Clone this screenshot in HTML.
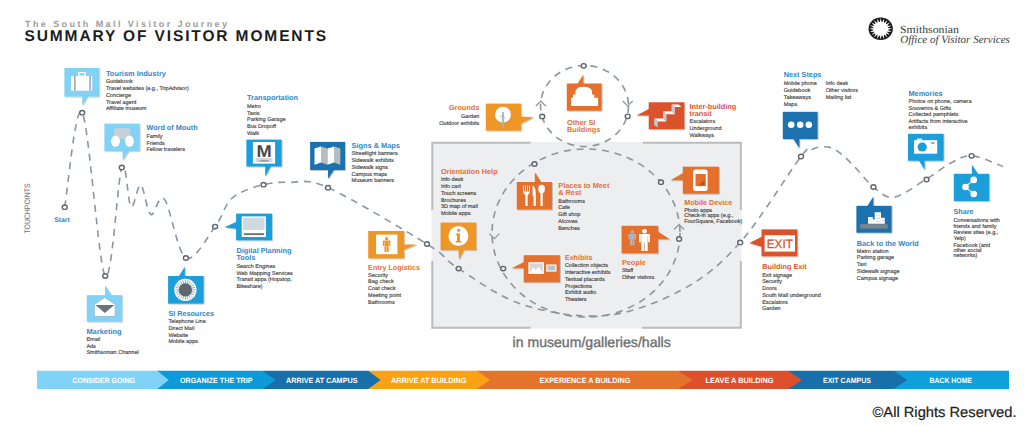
<!DOCTYPE html><html><head><meta charset="utf-8"><style>html,body{margin:0;padding:0;background:#fff;}svg{display:block;}#wrap{width:1024px;height:427px;}text{font-family:"Liberation Sans",sans-serif;text-rendering:geometricPrecision;}</style></head><body>
<div id="wrap">
<svg width="1024" height="427" viewBox="0 0 1024 427">
<defs><filter id="sh" x="-20%" y="-20%" width="150%" height="150%"><feDropShadow dx="0.8" dy="0.8" stdDeviation="0.6" flood-color="#000" flood-opacity="0.28"/></filter><filter id="bl" color-interpolation-filters="sRGB" x="0" y="0" width="1024" height="427" filterUnits="userSpaceOnUse"><feGaussianBlur stdDeviation="0.45"/></filter></defs>
<rect width="1024" height="427" fill="#fff"/>
<text x="25" y="26.8" font-size="9" fill="#9a9a9a" font-weight="bold" letter-spacing="2.42">The South Mall Visitor Journey</text>
<text x="24.5" y="41.3" font-size="15.5" fill="#1c1c1c" font-weight="bold" letter-spacing="1.88">SUMMARY OF VISITOR MOMENTS</text>
<ellipse cx="880.7" cy="28.8" rx="12.2" ry="11.3" fill="#1a1a1a"/>
<path d="M887.84,27.94 L892.30,28.80 L887.84,29.66 Z M887.78,30.01 L891.73,32.11 L887.20,31.64 Z M887.02,31.95 L890.08,35.09 L885.93,33.34 Z M885.65,33.59 L887.52,37.46 L884.14,34.60 Z M883.79,34.76 L884.28,38.98 L882.02,35.29 Z M881.63,35.34 L880.70,39.50 L879.77,35.34 Z M879.38,35.29 L877.12,38.98 L877.61,34.76 Z M877.26,34.60 L873.88,37.46 L875.75,33.59 Z M875.47,33.34 L871.32,35.09 L874.38,31.95 Z M874.20,31.64 L869.67,32.11 L873.62,30.01 Z M873.56,29.66 L869.10,28.80 L873.56,27.94 Z M873.62,27.59 L869.67,25.49 L874.20,25.96 Z M874.38,25.65 L871.32,22.51 L875.47,24.26 Z M875.75,24.01 L873.88,20.14 L877.26,23.00 Z M877.61,22.84 L877.12,18.62 L879.38,22.31 Z M879.77,22.26 L880.70,18.10 L881.63,22.26 Z M882.02,22.31 L884.28,18.62 L883.79,22.84 Z M884.14,23.00 L887.52,20.14 L885.65,24.01 Z M885.93,24.26 L890.08,22.51 L887.02,25.65 Z M887.20,25.96 L891.73,25.49 L887.78,27.59 Z" fill="#fff"/>
<ellipse cx="880.7" cy="28.8" rx="7.6" ry="7.0" fill="#fff"/>
<text x="899.9" y="32.6" font-size="11" fill="#3d3d3d" textLength="59" lengthAdjust="spacingAndGlyphs" style="font-family:'Liberation Serif',serif">Smithsonian</text>
<text x="900.3" y="42.8" font-size="11" fill="#3d3d3d" font-style="italic" textLength="109.5" lengthAdjust="spacingAndGlyphs" style="font-family:'Liberation Serif',serif">Office of Visitor Services</text>
<text x="0" y="0" font-size="8" fill="#6c737a" transform="translate(30.3,233.6) rotate(-90)" textLength="50.2" lengthAdjust="spacingAndGlyphs">TOUCHPOINTS</text>
<rect x="431.5" y="142" width="310" height="186.5" fill="#eceef0"/>
<path d="M432.3,210 V142.8 H530.5 M643,142.8 H740.8 V210 M432.3,261 V327.8 H530.5 M642,327.8 H740.8 V261" fill="none" stroke="#bcbcbc" stroke-width="2"/>
<path d="M64.7,207.2 C67.6,191.4 75.5,101.2 82.2,112.7 C89.0,124.2 98.6,266.9 105.2,276.0 C111.8,285.1 117.5,179.0 121.8,167.5 C126.1,156.0 127.8,203.9 131.0,206.8 C134.2,209.7 137.4,183.6 140.7,184.9 C144.0,186.2 146.8,212.1 150.8,214.5 C154.8,216.9 158.7,191.9 164.5,199.2 C170.3,206.4 177.5,253.4 185.9,258.0 C194.3,262.6 208.1,235.8 215.1,226.6 C222.1,217.4 223.8,208.6 228.0,203.0 C232.2,197.4 234.1,195.9 240.0,192.8 C245.9,189.8 255.2,186.4 263.5,184.7 C271.8,182.9 278.9,181.8 289.6,182.3 C300.4,182.8 305.1,177.4 328.0,187.7 C350.9,198.0 405.2,230.5 427.0,244.0 C448.8,257.5 442.6,258.5 458.6,268.6 C474.6,278.7 498.5,296.9 523.0,304.7 C547.5,312.5 579.1,318.1 605.8,315.5 C632.5,312.9 660.6,301.4 683.0,289.2 C705.4,277.0 720.5,264.5 740.2,242.4 C759.9,220.3 789.0,172.0 801.0,156.5 C813.0,141.0 808.3,151.1 812.0,149.5 C815.7,147.9 819.2,146.8 823.0,146.8 C826.8,146.8 830.2,146.6 835.0,149.5 C839.8,152.4 845.6,157.8 852.0,164.0 C858.4,170.2 866.4,181.5 873.4,187.0 C880.4,192.5 885.1,198.5 894.0,197.2 C902.9,195.9 917.2,184.6 926.5,179.0 C935.8,173.4 942.5,167.4 950.0,163.5 C957.5,159.6 962.8,155.3 971.6,155.8 C980.4,156.3 997.8,164.7 1003.0,166.5" fill="none" stroke="#8a96a0" stroke-width="1.6" stroke-dasharray="7 5.8"/>
<ellipse cx="586" cy="233" rx="94" ry="84" fill="none" stroke="#8a96a0" stroke-width="1.6" stroke-dasharray="7 5.8"/>
<ellipse cx="584.5" cy="106" rx="44" ry="40.5" fill="none" stroke="#8a96a0" stroke-width="1.6" stroke-dasharray="7 5.8"/>
<path d="M489.4,233.6 L494.4,238.6 L499.4,233.6" fill="none" stroke="#8a96a0" stroke-width="1.2"/>
<path d="M674.0,229.5 L679.0,224.5 L684.0,229.5" fill="none" stroke="#8a96a0" stroke-width="1.2"/>
<path d="M535.8,106.0 L540.8,101.0 L545.8,106.0" fill="none" stroke="#8a96a0" stroke-width="1.2"/>
<path d="M622.7,101.0 L627.7,106.0 L632.7,101.0" fill="none" stroke="#8a96a0" stroke-width="1.2"/>
<ellipse cx="64.7" cy="207.2" rx="2.5" ry="2.2" fill="#ffffff" stroke="#5d666d" stroke-width="1.4"/>
<ellipse cx="82.2" cy="112.7" rx="2.5" ry="2.2" fill="#ffffff" stroke="#5d666d" stroke-width="1.4"/>
<ellipse cx="105.2" cy="276.0" rx="2.5" ry="2.2" fill="#ffffff" stroke="#5d666d" stroke-width="1.4"/>
<ellipse cx="121.8" cy="167.5" rx="2.5" ry="2.2" fill="#ffffff" stroke="#5d666d" stroke-width="1.4"/>
<ellipse cx="185.9" cy="258.0" rx="2.5" ry="2.2" fill="#ffffff" stroke="#5d666d" stroke-width="1.4"/>
<ellipse cx="215.1" cy="226.6" rx="2.5" ry="2.2" fill="#ffffff" stroke="#5d666d" stroke-width="1.4"/>
<ellipse cx="263.5" cy="184.7" rx="2.5" ry="2.2" fill="#ffffff" stroke="#5d666d" stroke-width="1.4"/>
<ellipse cx="328.0" cy="187.7" rx="2.5" ry="2.2" fill="#ffffff" stroke="#5d666d" stroke-width="1.4"/>
<ellipse cx="427.0" cy="244.0" rx="2.5" ry="2.2" fill="#ffffff" stroke="#5d666d" stroke-width="1.4"/>
<ellipse cx="740.2" cy="242.4" rx="2.5" ry="2.2" fill="#ffffff" stroke="#5d666d" stroke-width="1.4"/>
<ellipse cx="801.0" cy="156.5" rx="2.5" ry="2.2" fill="#ffffff" stroke="#5d666d" stroke-width="1.4"/>
<ellipse cx="873.4" cy="187.0" rx="2.5" ry="2.2" fill="#ffffff" stroke="#5d666d" stroke-width="1.4"/>
<ellipse cx="926.5" cy="179.5" rx="2.5" ry="2.2" fill="#ffffff" stroke="#5d666d" stroke-width="1.4"/>
<ellipse cx="971.6" cy="155.8" rx="2.5" ry="2.2" fill="#ffffff" stroke="#5d666d" stroke-width="1.4"/>
<ellipse cx="583.7" cy="65.8" rx="2.5" ry="2.2" fill="#ffffff" stroke="#5d666d" stroke-width="1.4"/>
<ellipse cx="542.2" cy="116.4" rx="2.5" ry="2.2" fill="#ffffff" stroke="#5d666d" stroke-width="1.4"/>
<ellipse cx="627.7" cy="116.3" rx="2.5" ry="2.2" fill="#ffffff" stroke="#5d666d" stroke-width="1.4"/>
<ellipse cx="458.6" cy="268.6" rx="2.5" ry="2.2" fill="#eceef0" stroke="#5d666d" stroke-width="1.4"/>
<ellipse cx="534.5" cy="164.0" rx="2.5" ry="2.2" fill="#eceef0" stroke="#5d666d" stroke-width="1.4"/>
<ellipse cx="661.0" cy="182.2" rx="2.5" ry="2.2" fill="#eceef0" stroke="#5d666d" stroke-width="1.4"/>
<ellipse cx="679.1" cy="239.0" rx="2.5" ry="2.2" fill="#eceef0" stroke="#5d666d" stroke-width="1.4"/>
<ellipse cx="503.2" cy="268.6" rx="2.5" ry="2.2" fill="#eceef0" stroke="#5d666d" stroke-width="1.4"/>
<g filter="url(#sh)"><rect x="64.4" y="67.9" width="34.8" height="28.6" fill="#82d2f5"/><polygon points="82.2,96.0 82.2,105.3 88.1,96.0" fill="#82d2f5"/></g>
<g filter="url(#sh)"><rect x="104.4" y="123.6" width="35.2" height="27.5" fill="#82d2f5"/><polygon points="122.6,150.5 122.6,160.5 129.0,150.5" fill="#82d2f5"/></g>
<g filter="url(#sh)"><rect x="86.8" y="295.2" width="35.4" height="26.4" fill="#82d2f5"/><polygon points="105.0,296.0 105.0,285.3 112.2,296.0" fill="#82d2f5"/></g>
<g filter="url(#sh)"><rect x="168.1" y="276.0" width="35.5" height="27.6" fill="#1a9edb"/><polygon points="184.8,277.0 184.8,266.7 178.4,277.0" fill="#1a9edb"/></g>
<g filter="url(#sh)"><rect x="246.4" y="139.6" width="35.2" height="26.9" fill="#1a9edb"/><polygon points="265.2,166.0 265.2,176.5 271.0,166.0" fill="#1a9edb"/></g>
<g filter="url(#sh)"><rect x="310.1" y="141.9" width="34.9" height="28.1" fill="#1f72ae"/><polygon points="328.0,169.5 328.0,178.7 334.4,169.5" fill="#1f72ae"/></g>
<g filter="url(#sh)"><rect x="236.1" y="213.6" width="36.0" height="26.7" fill="#1a9edb"/><polygon points="237.0,221.5 224.5,227.2 237.0,229.0" fill="#1a9edb"/></g>
<g filter="url(#sh)"><rect x="368.2" y="231.0" width="36.0" height="27.4" fill="#ee9628"/><polygon points="403.5,244.6 416.7,244.6 403.5,250.0" fill="#ee9628"/></g>
<g filter="url(#sh)"><rect x="440.6" y="222.6" width="35.6" height="27.5" fill="#ee9628"/><polygon points="458.4,249.5 459.0,259.5 464.3,249.5" fill="#ee9628"/></g>
<g filter="url(#sh)"><rect x="485.8" y="103.6" width="35.4" height="27.0" fill="#ee9628"/><polygon points="520.5,116.5 533.4,117.3 520.5,124.0" fill="#ee9628"/></g>
<g filter="url(#sh)"><rect x="566.8" y="83.5" width="34.8" height="27.2" fill="#e46f2d"/><polygon points="577.0,84.5 583.4,74.4 583.4,84.5" fill="#e46f2d"/></g>
<g filter="url(#sh)"><rect x="648.7" y="102.3" width="35.7" height="26.9" fill="#da532c"/><polygon points="649.5,108.6 636.6,115.4 649.5,115.4" fill="#da532c"/></g>
<g filter="url(#sh)"><rect x="516.8" y="182.0" width="35.1" height="27.5" fill="#e46f2d"/><polygon points="534.8,183.0 534.8,172.3 541.6,183.0" fill="#e46f2d"/></g>
<g filter="url(#sh)"><rect x="682.8" y="166.7" width="36.1" height="27.0" fill="#e46f2d"/><polygon points="683.5,172.7 670.6,180.2 683.5,180.2" fill="#e46f2d"/></g>
<g filter="url(#sh)"><rect x="621.6" y="225.8" width="36.5" height="27.5" fill="#e46f2d"/><polygon points="657.5,231.2 669.8,239.2 657.5,239.2" fill="#e46f2d"/></g>
<g filter="url(#sh)"><rect x="523.7" y="255.2" width="36.1" height="27.1" fill="#e46f2d"/><polygon points="524.5,261.7 511.6,268.3 524.5,268.3" fill="#e46f2d"/></g>
<g filter="url(#sh)"><rect x="761.5" y="229.4" width="35.9" height="26.9" fill="#da532c"/><polygon points="762.3,236.5 749.4,243.0 762.3,247.0" fill="#da532c"/></g>
<g filter="url(#sh)"><rect x="782.8" y="111.8" width="34.8" height="27.2" fill="#1f72ae"/><polygon points="793.0,138.5 799.4,148.3 799.4,138.5" fill="#1f72ae"/></g>
<g filter="url(#sh)"><rect x="856.4" y="205.8" width="35.2" height="26.9" fill="#1f72ae"/><polygon points="867.0,206.5 873.4,196.4 873.4,206.5" fill="#1f72ae"/></g>
<g filter="url(#sh)"><rect x="908.0" y="133.8" width="35.6" height="26.9" fill="#1a9edb"/><polygon points="918.7,160.0 924.6,170.1 924.6,160.0" fill="#1a9edb"/></g>
<g filter="url(#sh)"><rect x="953.8" y="173.8" width="35.5" height="27.2" fill="#1a9edb"/><polygon points="971.9,174.5 971.9,164.7 978.4,174.5" fill="#1a9edb"/></g>
<rect x="78.7" y="72.6" width="6.5" height="3.6" fill="none" stroke="#fff" stroke-width="1.3"/>
<rect x="71.1" y="76" width="21.1" height="14.7" fill="#fff"/>
<rect x="74.2" y="76" width="1.3" height="14.7" fill="#8a939a"/><rect x="89.4" y="76" width="1.3" height="14.7" fill="#8a939a"/>
<rect x="114.4" y="128.3" width="15.8" height="10.5" fill="#c8d0d6"/>
<ellipse cx="115.5" cy="141.2" rx="4.4" ry="5.6" fill="#fff"/><ellipse cx="129.5" cy="141.2" rx="4.4" ry="5.6" fill="#fff"/>
<polygon points="94.6,304.5 104.6,297.6 115.1,304.5 115.1,316.3 94.6,316.3" fill="#fff" stroke="#9aa3aa" stroke-width="0.5"/>
<polygon points="95.5,305 104.8,313 114.3,305" fill="#68747c"/>
<circle cx="185.4" cy="289.9" r="11.1" fill="#fff"/>
<path d="M191.40,289.90 L195.40,289.90 M191.20,291.45 L195.06,292.49 M190.60,292.90 L194.06,294.90 M189.64,294.14 L192.47,296.97 M188.40,295.10 L190.40,298.56 M186.95,295.70 L187.99,299.56 M185.40,295.90 L185.40,299.90 M183.85,295.70 L182.81,299.56 M182.40,295.10 L180.40,298.56 M181.16,294.14 L178.33,296.97 M180.20,292.90 L176.74,294.90 M179.60,291.45 L175.74,292.49 M179.40,289.90 L175.40,289.90 M179.60,288.35 L175.74,287.31 M180.20,286.90 L176.74,284.90 M181.16,285.66 L178.33,282.83 M182.40,284.70 L180.40,281.24 M183.85,284.10 L182.81,280.24 M185.40,283.90 L185.40,279.90 M186.95,284.10 L187.99,280.24 M188.40,284.70 L190.40,281.24 M189.64,285.66 L192.47,282.83 M190.60,286.90 L194.06,284.90 M191.20,288.35 L195.06,287.31" stroke="#8e979e" stroke-width="0.8"/>
<circle cx="185.4" cy="289.9" r="6.6" fill="#5c6770"/>
<rect x="252.9" y="142" width="22.2" height="21.6" fill="#fff"/>
<text x="264" y="156.6" font-size="17" font-weight="bold" fill="#4a4a4a" text-anchor="middle" textLength="15.2" lengthAdjust="spacingAndGlyphs">M</text>
<rect x="255.5" y="158" width="17" height="4" fill="#d6d6d6"/>
<text x="264" y="161.6" font-size="3.6" fill="#555" text-anchor="middle">metro</text>
<polygon points="314.5,148.5 321,146.5 321,162.5 314.5,164.7" fill="#fff"/>
<polygon points="321,146.5 327.5,148.5 327.5,164.7 321,162.5" fill="#b5bec5"/>
<polygon points="327.5,148.5 334,146.5 334,162.5 327.5,164.7" fill="#fff"/>
<polygon points="334,146.5 340.3,148.5 340.3,164.7 334,162.5" fill="#b5bec5"/>
<rect x="241.7" y="216.4" width="24.3" height="20.6" fill="#fff"/>
<rect x="243.1" y="217.8" width="21.5" height="12.2" fill="#d0d9df"/>
<rect x="243.9" y="233.2" width="20.1" height="1.9" fill="#6c7378"/>
<rect x="376" y="234.6" width="21.4" height="19.6" fill="#fff"/>
<circle cx="386.60" cy="238.73" r="1.63" fill="#ee9628"/>
<rect x="382.90" y="240.73" width="7.40" height="1.26" fill="#ee9628"/>
<rect x="382.90" y="240.73" width="1.26" height="5.33" fill="#ee9628"/>
<rect x="389.04" y="240.73" width="1.26" height="5.33" fill="#ee9628"/>
<rect x="384.45" y="240.73" width="4.29" height="5.77" fill="#ee9628"/>
<rect x="384.45" y="246.40" width="2.00" height="5.50" fill="#ee9628"/>
<rect x="386.75" y="246.40" width="2.00" height="5.50" fill="#ee9628"/>
<circle cx="458.4" cy="236" r="10" fill="#fff"/>
<circle cx="458.6" cy="230.3" r="1.6" fill="#ee9628"/>
<path d="M455.8,233.4 h4.2 v7.5 h1.4 v1.6 h-5.8 v-1.6 h1.4 v-5.9 h-1.2 Z" fill="#ee9628"/>
<circle cx="503" cy="114.7" r="8.3" fill="#fff" stroke="#c86a1f" stroke-width="0.4"/>
<path d="M503,112 V127.8" stroke="#a6b3bb" stroke-width="1.8"/>
<path d="M503,118 l-2.5,-2.5 M503,119.5 l2.5,-2.5" stroke="#a6b3bb" stroke-width="1"/>
<path d="M571.1,106 V97.8 H573 V94.5 H575.5 V91 A8.5,5.5 0 0 1 592,91 V94.5 H594.3 V97.8 H598.1 V106 Z" fill="#fff"/>
<path d="M654.2,118.6 H663 L666.5,121.5 H657.7 Z M663,111.3 H671.5 L675,114.2 H666.5 Z M671.5,104.5 H678.5 L681.5,107 H675 Z" fill="#fff"/>
<path d="M654.2,118.6 L657.7,121.5 V127.6 L654.2,125 Z M663,111.3 L666.5,114.2 V121.5 L663,118.6 Z M671.5,104.5 L675,107 V114.2 L671.5,111.3 Z" fill="#bccbd6"/>
<path d="M523.2,185.5 V192 Q523.2,194 525.4,194.8 V206 H527.6 V194.8 Q529.8,194 529.8,192 V185.5 H529 V191.5 H528 V185.5 H527.2 V191.5 H525.8 V185.5 H525 V191.5 H524 V185.5 Z" fill="#fff"/>
<path d="M532.6,185.5 Q535.8,187 535.8,194 V206 H533.6 V196 H532.6 Z" fill="#fff"/>
<ellipse cx="541.6" cy="189" rx="3.3" ry="4.2" fill="#fff"/><rect x="540.5" y="192" width="2.2" height="14" fill="#fff"/>
<rect x="528.4" y="262.2" width="15.5" height="11.7" fill="#fff"/>
<rect x="529.6" y="263.4" width="13.1" height="9.3" fill="#d6d6d6"/>
<path d="M529.6,272.7 L533.5,267.5 L536,270 L538.5,266.5 L542.7,272.7 Z" fill="#fff"/>
<rect x="546.2" y="264.5" width="10.3" height="7.1" fill="#fff"/>
<rect x="547.4" y="265.6" width="7.9" height="4.9" fill="#b3c3cf"/>
<circle cx="632.30" cy="231.95" r="1.65" fill="#a9b8c2"/>
<rect x="628.55" y="233.98" width="7.50" height="1.28" fill="#a9b8c2"/>
<rect x="628.55" y="233.98" width="1.28" height="5.40" fill="#a9b8c2"/>
<rect x="634.77" y="233.98" width="1.28" height="5.40" fill="#a9b8c2"/>
<rect x="630.12" y="233.98" width="4.35" height="5.85" fill="#a9b8c2"/>
<rect x="630.12" y="239.73" width="2.02" height="5.57" fill="#a9b8c2"/>
<rect x="632.45" y="239.73" width="2.02" height="5.57" fill="#a9b8c2"/>
<circle cx="644.50" cy="231.32" r="2.42" fill="#fff"/>
<rect x="639.00" y="234.29" width="11.00" height="1.87" fill="#fff"/>
<rect x="639.00" y="234.29" width="1.87" height="7.92" fill="#fff"/>
<rect x="648.13" y="234.29" width="1.87" height="7.92" fill="#fff"/>
<rect x="641.31" y="234.29" width="6.38" height="8.58" fill="#fff"/>
<rect x="641.31" y="242.77" width="2.97" height="8.13" fill="#fff"/>
<rect x="644.72" y="242.77" width="2.97" height="8.13" fill="#fff"/>
<rect x="693.1" y="169.4" width="14.5" height="21.5" rx="2.5" fill="#fff"/>
<rect x="695.5" y="174" width="10.3" height="12.2" fill="#e46f2d"/>
<path d="M699,185 L704.5,180 V185 Z" fill="#b8501f"/>
<rect x="764.6" y="235.2" width="30.4" height="16.4" fill="#fff"/>
<text x="779.8" y="247.6" font-size="12" fill="#da532c" stroke="#da532c" stroke-width="0.3" text-anchor="middle" textLength="26" lengthAdjust="spacingAndGlyphs">EXIT</text>
<circle cx="791.2" cy="124.7" r="3.3" fill="#fff"/>
<circle cx="800.2" cy="124.7" r="3.3" fill="#fff"/>
<circle cx="808.8" cy="124.7" r="3.3" fill="#fff"/>
<path d="M868,223.8 V217.1 H872.8 V219.6 H874.7 V212.3 H881 V217.7 H884.8 V223.8 Z" fill="#fff"/>
<path d="M876,215 h4 M876,218.3 h4 M876,221.4 h4 M869,220 h3 M882,220.5 h2" stroke="#c5ced4" stroke-width="0.8"/>
<rect x="860.1" y="224.2" width="27.5" height="4.4" fill="#7d858c"/>
<rect x="914" y="140.2" width="23.2" height="13.5" fill="#fff"/><rect x="917" y="138.6" width="5" height="2" fill="#fff"/>
<circle cx="922.2" cy="147" r="4.6" fill="#1a9edb"/>
<rect x="931" y="142" width="3.6" height="2" fill="#9fb0bb"/>
<path d="M973.7,179.9 L965.5,187 L973.7,194" fill="none" stroke="#cfd6db" stroke-width="1.6"/>
<circle cx="973.7" cy="179.9" r="3.3" fill="#fff"/>
<circle cx="965.5" cy="187.0" r="3.3" fill="#fff"/>
<circle cx="973.7" cy="194.0" r="3.3" fill="#fff"/>
<text x="105.9" y="75.9" font-size="7.30" fill="#3085c3" font-weight="bold" text-anchor="start" textLength="60.1" lengthAdjust="spacingAndGlyphs">Tourism Industry</text>
<text x="105.9" y="83.0" font-size="5.50" fill="#404040" font-weight="normal" text-anchor="start" stroke="#404040" stroke-width="0.14">Guidebook</text>
<text x="105.9" y="89.8" font-size="5.50" fill="#404040" font-weight="normal" text-anchor="start" stroke="#404040" stroke-width="0.14">Travel websites (e.g., TripAdvisor)</text>
<text x="105.9" y="96.7" font-size="5.50" fill="#404040" font-weight="normal" text-anchor="start" stroke="#404040" stroke-width="0.14">Concierge</text>
<text x="105.9" y="103.5" font-size="5.50" fill="#404040" font-weight="normal" text-anchor="start" stroke="#404040" stroke-width="0.14">Travel agent</text>
<text x="105.9" y="110.4" font-size="5.50" fill="#404040" font-weight="normal" text-anchor="start" stroke="#404040" stroke-width="0.14">Affiliate museum</text>
<text x="146.4" y="130.2" font-size="7.30" fill="#3085c3" font-weight="bold" text-anchor="start" textLength="51.2" lengthAdjust="spacingAndGlyphs">Word of Mouth</text>
<text x="146.4" y="137.7" font-size="5.50" fill="#404040" font-weight="normal" text-anchor="start" stroke="#404040" stroke-width="0.14">Family</text>
<text x="146.4" y="144.5" font-size="5.50" fill="#404040" font-weight="normal" text-anchor="start" stroke="#404040" stroke-width="0.14">Friends</text>
<text x="146.4" y="151.3" font-size="5.50" fill="#404040" font-weight="normal" text-anchor="start" stroke="#404040" stroke-width="0.14">Fellow travelers</text>
<text x="62.0" y="221.6" font-size="6.80" fill="#3085c3" font-weight="bold" text-anchor="middle">Start</text>
<text x="86.4" y="333.7" font-size="7.30" fill="#3085c3" font-weight="bold" text-anchor="start" textLength="35.3" lengthAdjust="spacingAndGlyphs">Marketing</text>
<text x="86.4" y="340.7" font-size="5.50" fill="#404040" font-weight="normal" text-anchor="start" stroke="#404040" stroke-width="0.14">Email</text>
<text x="86.4" y="347.5" font-size="5.50" fill="#404040" font-weight="normal" text-anchor="start" stroke="#404040" stroke-width="0.14">Ads</text>
<text x="86.4" y="354.3" font-size="5.50" fill="#404040" font-weight="normal" text-anchor="start" stroke="#404040" stroke-width="0.14">Smithsonian Channel</text>
<text x="168.4" y="315.9" font-size="7.30" fill="#3085c3" font-weight="bold" text-anchor="start" textLength="45.7" lengthAdjust="spacingAndGlyphs">SI Resources</text>
<text x="168.4" y="323.2" font-size="5.50" fill="#404040" font-weight="normal" text-anchor="start" stroke="#404040" stroke-width="0.14">Telephone Line</text>
<text x="168.4" y="329.9" font-size="5.50" fill="#404040" font-weight="normal" text-anchor="start" stroke="#404040" stroke-width="0.14">Direct Mail</text>
<text x="168.4" y="336.7" font-size="5.50" fill="#404040" font-weight="normal" text-anchor="start" stroke="#404040" stroke-width="0.14">Website</text>
<text x="168.4" y="343.4" font-size="5.50" fill="#404040" font-weight="normal" text-anchor="start" stroke="#404040" stroke-width="0.14">Mobile apps</text>
<text x="247.0" y="100.3" font-size="7.30" fill="#3085c3" font-weight="bold" text-anchor="start" textLength="51.0" lengthAdjust="spacingAndGlyphs">Transportation</text>
<text x="247.0" y="107.7" font-size="5.50" fill="#404040" font-weight="normal" text-anchor="start" stroke="#404040" stroke-width="0.14">Metro</text>
<text x="247.0" y="114.5" font-size="5.50" fill="#404040" font-weight="normal" text-anchor="start" stroke="#404040" stroke-width="0.14">Taxis</text>
<text x="247.0" y="121.3" font-size="5.50" fill="#404040" font-weight="normal" text-anchor="start" stroke="#404040" stroke-width="0.14">Parking Garage</text>
<text x="247.0" y="128.1" font-size="5.50" fill="#404040" font-weight="normal" text-anchor="start" stroke="#404040" stroke-width="0.14">Bus Dropoff</text>
<text x="247.0" y="134.9" font-size="5.50" fill="#404040" font-weight="normal" text-anchor="start" stroke="#404040" stroke-width="0.14">Walk</text>
<text x="351.6" y="147.7" font-size="7.30" fill="#3085c3" font-weight="bold" text-anchor="start" textLength="48.3" lengthAdjust="spacingAndGlyphs">Signs &amp; Maps</text>
<text x="351.6" y="155.3" font-size="5.50" fill="#404040" font-weight="normal" text-anchor="start" stroke="#404040" stroke-width="0.14">Streetlight banners</text>
<text x="351.6" y="162.0" font-size="5.50" fill="#404040" font-weight="normal" text-anchor="start" stroke="#404040" stroke-width="0.14">Sidewalk exhibits</text>
<text x="351.6" y="168.8" font-size="5.50" fill="#404040" font-weight="normal" text-anchor="start" stroke="#404040" stroke-width="0.14">Sidewalk signs</text>
<text x="351.6" y="175.5" font-size="5.50" fill="#404040" font-weight="normal" text-anchor="start" stroke="#404040" stroke-width="0.14">Campus maps</text>
<text x="351.6" y="182.3" font-size="5.50" fill="#404040" font-weight="normal" text-anchor="start" stroke="#404040" stroke-width="0.14">Museum banners</text>
<text x="236.4" y="253.1" font-size="7.30" fill="#3085c3" font-weight="bold" text-anchor="start" textLength="55.1" lengthAdjust="spacingAndGlyphs">Digital Planning</text>
<text x="236.4" y="260.0" font-size="7.30" fill="#3085c3" font-weight="bold" text-anchor="start">Tools</text>
<text x="236.4" y="268.0" font-size="5.50" fill="#404040" font-weight="normal" text-anchor="start" stroke="#404040" stroke-width="0.14">Search Engines</text>
<text x="236.4" y="274.6" font-size="5.50" fill="#404040" font-weight="normal" text-anchor="start" stroke="#404040" stroke-width="0.14">Web Mapping Services</text>
<text x="236.4" y="281.2" font-size="5.50" fill="#404040" font-weight="normal" text-anchor="start" stroke="#404040" stroke-width="0.14">Transit apps (Hopstop,</text>
<text x="236.4" y="287.8" font-size="5.50" fill="#404040" font-weight="normal" text-anchor="start" stroke="#404040" stroke-width="0.14">Bikeshare)</text>
<text x="368.1" y="269.7" font-size="7.30" fill="#e36f31" font-weight="bold" text-anchor="start" textLength="51.9" lengthAdjust="spacingAndGlyphs">Entry Logistics</text>
<text x="368.1" y="276.7" font-size="5.50" fill="#404040" font-weight="normal" text-anchor="start" stroke="#404040" stroke-width="0.14">Security</text>
<text x="368.1" y="283.4" font-size="5.50" fill="#404040" font-weight="normal" text-anchor="start" stroke="#404040" stroke-width="0.14">Bag check</text>
<text x="368.1" y="290.1" font-size="5.50" fill="#404040" font-weight="normal" text-anchor="start" stroke="#404040" stroke-width="0.14">Coat check</text>
<text x="368.1" y="296.8" font-size="5.50" fill="#404040" font-weight="normal" text-anchor="start" stroke="#404040" stroke-width="0.14">Meeting point</text>
<text x="368.1" y="303.5" font-size="5.50" fill="#404040" font-weight="normal" text-anchor="start" stroke="#404040" stroke-width="0.14">Bathrooms</text>
<text x="440.9" y="173.8" font-size="7.30" fill="#e36f31" font-weight="bold" text-anchor="start" textLength="56.7" lengthAdjust="spacingAndGlyphs">Orientation Help</text>
<text x="440.9" y="181.1" font-size="5.50" fill="#404040" font-weight="normal" text-anchor="start" stroke="#404040" stroke-width="0.14">Info desk</text>
<text x="440.9" y="187.9" font-size="5.50" fill="#404040" font-weight="normal" text-anchor="start" stroke="#404040" stroke-width="0.14">Info cart</text>
<text x="440.9" y="194.7" font-size="5.50" fill="#404040" font-weight="normal" text-anchor="start" stroke="#404040" stroke-width="0.14">Touch screens</text>
<text x="440.9" y="201.5" font-size="5.50" fill="#404040" font-weight="normal" text-anchor="start" stroke="#404040" stroke-width="0.14">Brochures</text>
<text x="440.9" y="208.3" font-size="5.50" fill="#404040" font-weight="normal" text-anchor="start" stroke="#404040" stroke-width="0.14">3D map of mall</text>
<text x="440.9" y="215.1" font-size="5.50" fill="#404040" font-weight="normal" text-anchor="start" stroke="#404040" stroke-width="0.14">Mobile apps</text>
<text x="558.3" y="188.4" font-size="7.30" fill="#e36f31" font-weight="bold" text-anchor="start" textLength="51.1" lengthAdjust="spacingAndGlyphs">Places to Meet</text>
<text x="558.3" y="195.3" font-size="7.30" fill="#e36f31" font-weight="bold" text-anchor="start">&amp; Rest</text>
<text x="558.3" y="202.6" font-size="5.50" fill="#404040" font-weight="normal" text-anchor="start" stroke="#404040" stroke-width="0.14">Bathrooms</text>
<text x="558.3" y="209.4" font-size="5.50" fill="#404040" font-weight="normal" text-anchor="start" stroke="#404040" stroke-width="0.14">Cafe</text>
<text x="558.3" y="216.2" font-size="5.50" fill="#404040" font-weight="normal" text-anchor="start" stroke="#404040" stroke-width="0.14">Gift shop</text>
<text x="558.3" y="223.0" font-size="5.50" fill="#404040" font-weight="normal" text-anchor="start" stroke="#404040" stroke-width="0.14">Alcoves</text>
<text x="558.3" y="229.8" font-size="5.50" fill="#404040" font-weight="normal" text-anchor="start" stroke="#404040" stroke-width="0.14">Benches</text>
<text x="564.9" y="259.8" font-size="7.30" fill="#e36f31" font-weight="bold" text-anchor="start" textLength="27.7" lengthAdjust="spacingAndGlyphs">Exhibits</text>
<text x="564.9" y="267.2" font-size="5.50" fill="#404040" font-weight="normal" text-anchor="start" stroke="#404040" stroke-width="0.14">Collection objects</text>
<text x="564.9" y="274.0" font-size="5.50" fill="#404040" font-weight="normal" text-anchor="start" stroke="#404040" stroke-width="0.14">Interactive exhibits</text>
<text x="564.9" y="280.8" font-size="5.50" fill="#404040" font-weight="normal" text-anchor="start" stroke="#404040" stroke-width="0.14">Textual placards</text>
<text x="564.9" y="287.6" font-size="5.50" fill="#404040" font-weight="normal" text-anchor="start" stroke="#404040" stroke-width="0.14">Projections</text>
<text x="564.9" y="294.4" font-size="5.50" fill="#404040" font-weight="normal" text-anchor="start" stroke="#404040" stroke-width="0.14">Exhibit audio</text>
<text x="564.9" y="301.2" font-size="5.50" fill="#404040" font-weight="normal" text-anchor="start" stroke="#404040" stroke-width="0.14">Theaters</text>
<text x="621.9" y="264.5" font-size="7.30" fill="#e36f31" font-weight="bold" text-anchor="start">People</text>
<text x="621.9" y="271.8" font-size="5.50" fill="#404040" font-weight="normal" text-anchor="start" stroke="#404040" stroke-width="0.14">Staff</text>
<text x="621.9" y="278.6" font-size="5.50" fill="#404040" font-weight="normal" text-anchor="start" stroke="#404040" stroke-width="0.14">Other visitors</text>
<text x="684.2" y="204.5" font-size="7.30" fill="#e36f31" font-weight="bold" text-anchor="start" textLength="48.0" lengthAdjust="spacingAndGlyphs">Mobile Device</text>
<text x="684.2" y="211.5" font-size="5.50" fill="#404040" font-weight="normal" text-anchor="start" stroke="#404040" stroke-width="0.14">Photo apps</text>
<text x="684.2" y="217.1" font-size="5.50" fill="#404040" font-weight="normal" text-anchor="start" stroke="#404040" stroke-width="0.14">Check-in apps (e.g.,</text>
<text x="684.2" y="222.7" font-size="5.50" fill="#404040" font-weight="normal" text-anchor="start" stroke="#404040" stroke-width="0.14">FourSquare, Facebook)</text>
<text x="479.3" y="110.4" font-size="7.30" fill="#e36f31" font-weight="bold" text-anchor="end">Grounds</text>
<text x="479.3" y="117.8" font-size="5.50" fill="#404040" font-weight="normal" text-anchor="end" stroke="#404040" stroke-width="0.14">Garden</text>
<text x="479.3" y="124.5" font-size="5.50" fill="#404040" font-weight="normal" text-anchor="end" stroke="#404040" stroke-width="0.14">Outdoor exhibits</text>
<text x="567.0" y="124.6" font-size="7.30" fill="#e36f31" font-weight="bold" text-anchor="start">Other SI</text>
<text x="567.0" y="131.5" font-size="7.30" fill="#e36f31" font-weight="bold" text-anchor="start">Buildings</text>
<text x="689.5" y="109.1" font-size="7.30" fill="#da532c" font-weight="bold" text-anchor="start">Inter-building</text>
<text x="689.5" y="116.0" font-size="7.30" fill="#da532c" font-weight="bold" text-anchor="start">transit</text>
<text x="689.5" y="123.0" font-size="5.50" fill="#404040" font-weight="normal" text-anchor="start" stroke="#404040" stroke-width="0.14">Escalators</text>
<text x="689.5" y="130.0" font-size="5.50" fill="#404040" font-weight="normal" text-anchor="start" stroke="#404040" stroke-width="0.14">Underground</text>
<text x="689.5" y="137.0" font-size="5.50" fill="#404040" font-weight="normal" text-anchor="start" stroke="#404040" stroke-width="0.14">Walkways</text>
<text x="762.2" y="268.7" font-size="7.30" fill="#da532c" font-weight="bold" text-anchor="start">Building Exit</text>
<text x="762.2" y="276.6" font-size="5.50" fill="#404040" font-weight="normal" text-anchor="start" stroke="#404040" stroke-width="0.14">Exit signage</text>
<text x="762.2" y="283.3" font-size="5.50" fill="#404040" font-weight="normal" text-anchor="start" stroke="#404040" stroke-width="0.14">Security</text>
<text x="762.2" y="290.1" font-size="5.50" fill="#404040" font-weight="normal" text-anchor="start" stroke="#404040" stroke-width="0.14">Doors</text>
<text x="762.2" y="296.8" font-size="5.50" fill="#404040" font-weight="normal" text-anchor="start" stroke="#404040" stroke-width="0.14">South Mall underground</text>
<text x="762.2" y="303.6" font-size="5.50" fill="#404040" font-weight="normal" text-anchor="start" stroke="#404040" stroke-width="0.14">Escalators</text>
<text x="762.2" y="310.3" font-size="5.50" fill="#404040" font-weight="normal" text-anchor="start" stroke="#404040" stroke-width="0.14">Garden</text>
<text x="783.7" y="77.4" font-size="7.30" fill="#3085c3" font-weight="bold" text-anchor="start">Next Steps</text>
<text x="783.7" y="85.2" font-size="5.50" fill="#404040" font-weight="normal" text-anchor="start" stroke="#404040" stroke-width="0.14">Mobile phone</text>
<text x="783.7" y="92.2" font-size="5.50" fill="#404040" font-weight="normal" text-anchor="start" stroke="#404040" stroke-width="0.14">Guidebook</text>
<text x="783.7" y="99.2" font-size="5.50" fill="#404040" font-weight="normal" text-anchor="start" stroke="#404040" stroke-width="0.14">Takeaways</text>
<text x="783.7" y="106.2" font-size="5.50" fill="#404040" font-weight="normal" text-anchor="start" stroke="#404040" stroke-width="0.14">Maps</text>
<text x="825.7" y="85.2" font-size="5.50" fill="#404040" font-weight="normal" text-anchor="start" stroke="#404040" stroke-width="0.14">Info desk</text>
<text x="825.7" y="92.2" font-size="5.50" fill="#404040" font-weight="normal" text-anchor="start" stroke="#404040" stroke-width="0.14">Other visitors</text>
<text x="825.7" y="99.2" font-size="5.50" fill="#404040" font-weight="normal" text-anchor="start" stroke="#404040" stroke-width="0.14">Mailing list</text>
<text x="908.5" y="95.5" font-size="7.30" fill="#3085c3" font-weight="bold" text-anchor="start">Memories</text>
<text x="908.5" y="102.6" font-size="5.50" fill="#404040" font-weight="normal" text-anchor="start" stroke="#404040" stroke-width="0.14">Photos on phone, camera</text>
<text x="908.5" y="109.5" font-size="5.50" fill="#404040" font-weight="normal" text-anchor="start" stroke="#404040" stroke-width="0.14">Souvenirs &amp; Gifts</text>
<text x="908.5" y="116.4" font-size="5.50" fill="#404040" font-weight="normal" text-anchor="start" stroke="#404040" stroke-width="0.14">Collected pamphlets</text>
<text x="908.5" y="123.3" font-size="5.50" fill="#404040" font-weight="normal" text-anchor="start" stroke="#404040" stroke-width="0.14">Artifacts from interactive</text>
<text x="908.5" y="129.0" font-size="5.50" fill="#404040" font-weight="normal" text-anchor="start" stroke="#404040" stroke-width="0.14">exhibits</text>
<text x="856.8" y="245.6" font-size="7.30" fill="#3085c3" font-weight="bold" text-anchor="start">Back to the World</text>
<text x="856.8" y="252.6" font-size="5.50" fill="#404040" font-weight="normal" text-anchor="start" stroke="#404040" stroke-width="0.14">Metro station</text>
<text x="856.8" y="259.4" font-size="5.50" fill="#404040" font-weight="normal" text-anchor="start" stroke="#404040" stroke-width="0.14">Parking garage</text>
<text x="856.8" y="266.2" font-size="5.50" fill="#404040" font-weight="normal" text-anchor="start" stroke="#404040" stroke-width="0.14">Taxi</text>
<text x="856.8" y="273.0" font-size="5.50" fill="#404040" font-weight="normal" text-anchor="start" stroke="#404040" stroke-width="0.14">Sidewalk signage</text>
<text x="856.8" y="279.8" font-size="5.50" fill="#404040" font-weight="normal" text-anchor="start" stroke="#404040" stroke-width="0.14">Campus signage</text>
<text x="953.4" y="214.1" font-size="7.30" fill="#3085c3" font-weight="bold" text-anchor="start">Share</text>
<text x="953.4" y="222.2" font-size="5.50" fill="#404040" font-weight="normal" text-anchor="start" stroke="#404040" stroke-width="0.14">Conversations with</text>
<text x="953.4" y="227.6" font-size="5.50" fill="#404040" font-weight="normal" text-anchor="start" stroke="#404040" stroke-width="0.14">friends and family</text>
<text x="953.4" y="234.3" font-size="5.50" fill="#404040" font-weight="normal" text-anchor="start" stroke="#404040" stroke-width="0.14">Review sites (e.g.,</text>
<text x="953.4" y="239.5" font-size="5.50" fill="#404040" font-weight="normal" text-anchor="start" stroke="#404040" stroke-width="0.14">Yelp)</text>
<text x="953.4" y="246.5" font-size="5.50" fill="#404040" font-weight="normal" text-anchor="start" stroke="#404040" stroke-width="0.14">Facebook (and</text>
<text x="953.4" y="252.0" font-size="5.50" fill="#404040" font-weight="normal" text-anchor="start" stroke="#404040" stroke-width="0.14">other social</text>
<text x="953.4" y="257.2" font-size="5.50" fill="#404040" font-weight="normal" text-anchor="start" stroke="#404040" stroke-width="0.14">networks)</text>
<text x="512.5" y="347.0" font-size="14.10" fill="#6e6e6e" font-weight="normal" text-anchor="start" textLength="158.3" lengthAdjust="spacingAndGlyphs" stroke="#6e6e6e" stroke-width="0.35">in museum/galleries/halls</text>
<rect x="894.0" y="370.7" width="115.0" height="18.4" fill="#109fdd"/>
<polygon points="788.0,370.7 894.0,370.7 907.0,379.9 894.0,389.1 788.0,389.1" fill="#1770aa"/>
<polygon points="678.0,370.7 788.0,370.7 802.0,379.9 788.0,389.1 678.0,389.1" fill="#dc502b"/>
<polygon points="477.0,370.7 678.0,370.7 692.5,379.9 678.0,389.1 477.0,389.1" fill="#e4732c"/>
<polygon points="368.1,370.7 477.0,370.7 490.0,379.9 477.0,389.1 368.1,389.1" fill="#fba214"/>
<polygon points="262.5,370.7 368.1,370.7 380.7,379.9 368.1,389.1 262.5,389.1" fill="#1770aa"/>
<polygon points="157.2,370.7 262.5,370.7 275.5,379.9 262.5,389.1 157.2,389.1" fill="#0c9ad9"/>
<polygon points="37.0,370.7 157.2,370.7 168.8,379.9 157.2,389.1 37.0,389.1" fill="#7fd3f8"/>
<text x="72.5" y="383.1" font-size="7.50" fill="#ffffff" font-weight="bold" text-anchor="start" textLength="62.5" lengthAdjust="spacingAndGlyphs">CONSIDER GOING</text>
<text x="180.0" y="383.1" font-size="7.50" fill="#ffffff" font-weight="bold" text-anchor="start" textLength="72.5" lengthAdjust="spacingAndGlyphs">ORGANIZE THE TRIP</text>
<text x="286.0" y="383.1" font-size="7.50" fill="#ffffff" font-weight="bold" text-anchor="start" textLength="71.5" lengthAdjust="spacingAndGlyphs">ARRIVE AT CAMPUS</text>
<text x="391.0" y="383.1" font-size="7.50" fill="#ffffff" font-weight="bold" text-anchor="start" textLength="75.5" lengthAdjust="spacingAndGlyphs">ARRIVE AT BUILDING</text>
<text x="539.5" y="383.1" font-size="7.50" fill="#ffffff" font-weight="bold" text-anchor="start" textLength="91.0" lengthAdjust="spacingAndGlyphs">EXPERIENCE A BUILDING</text>
<text x="705.5" y="383.1" font-size="7.50" fill="#ffffff" font-weight="bold" text-anchor="start" textLength="68.0" lengthAdjust="spacingAndGlyphs">LEAVE A BUILDING</text>
<text x="823.0" y="383.1" font-size="7.50" fill="#ffffff" font-weight="bold" text-anchor="start" textLength="48.0" lengthAdjust="spacingAndGlyphs">EXIT CAMPUS</text>
<text x="929.5" y="383.1" font-size="7.50" fill="#ffffff" font-weight="bold" text-anchor="start" textLength="42.5" lengthAdjust="spacingAndGlyphs">BACK HOME</text>
<text x="872.5" y="416.8" font-size="14.60" fill="#1a1a1a" font-weight="normal" text-anchor="start" textLength="144.0" lengthAdjust="spacingAndGlyphs" stroke="#1a1a1a" stroke-width="0.2">©All Rights Reserved.</text>
</svg></div></body></html>
